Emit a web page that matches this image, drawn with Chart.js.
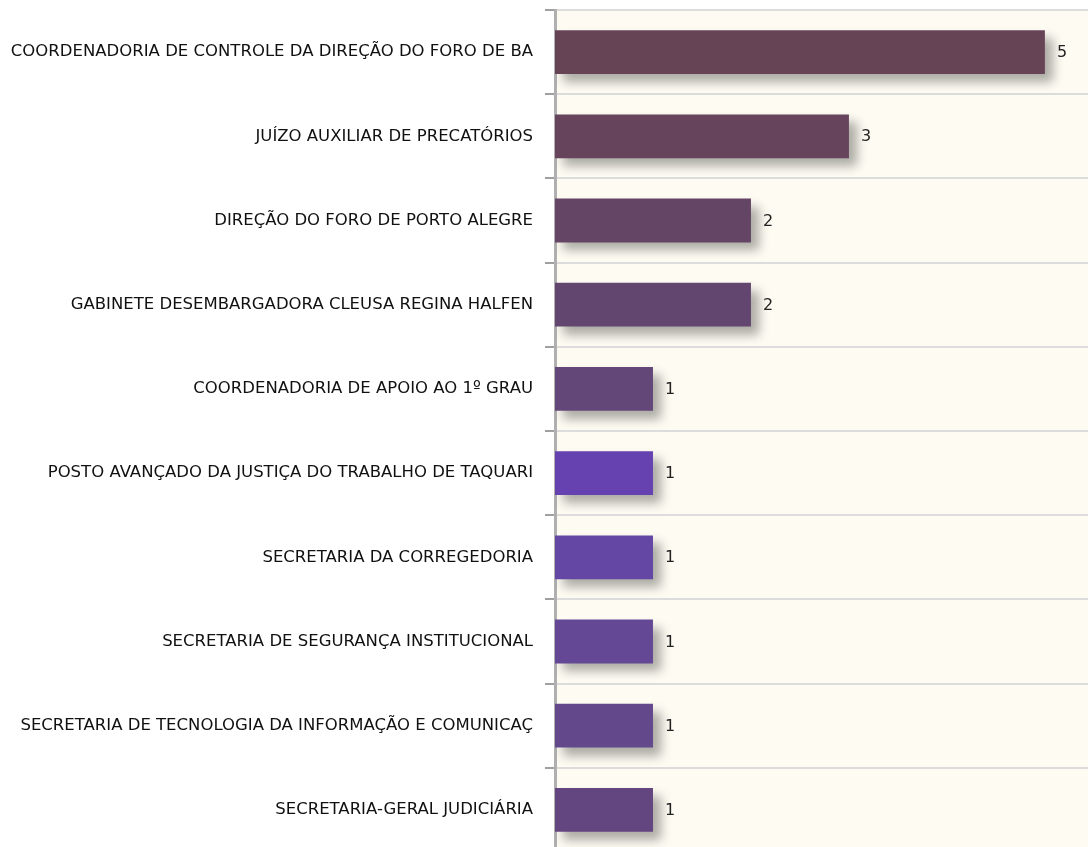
<!DOCTYPE html>
<html>
<head>
<meta charset="utf-8">
<script src="https://cdn.jsdelivr.net/npm/chart.js@4/dist/chart.umd.min.js"></script>
<style>
  html, body { margin: 0; padding: 0; background: #fff; overflow: hidden; }
  #wrap { width: 1088px; height: 852px; position: relative; }
</style>
</head>
<body>
<div id="wrap"><canvas id="chart"></canvas></div>
<script>
var labels = [
    "COORDENADORIA DE CONTROLE DA DIREÇÃO DO FORO DE BA",
    "JUÍZO AUXILIAR DE PRECATÓRIOS",
    "DIREÇÃO DO FORO DE PORTO ALEGRE",
    "GABINETE DESEMBARGADORA CLEUSA REGINA HALFEN",
    "COORDENADORIA DE APOIO AO 1º GRAU",
    "POSTO AVANÇADO DA JUSTIÇA DO TRABALHO DE TAQUARI",
    "SECRETARIA DA CORREGEDORIA",
    "SECRETARIA DE SEGURANÇA INSTITUCIONAL",
    "SECRETARIA DE TECNOLOGIA DA INFORMAÇÃO E COMUNICAÇ",
    "SECRETARIA-GERAL JUDICIÁRIA"
];
var values = [5, 3, 2, 2, 1, 1, 1, 1, 1, 1];
var barColors = [
    "#664456", "#65445c", "#644565", "#63466f", "#634779",
    "#6542b0", "#6446a4", "#644896", "#63488b", "#634580"
];

const FONT = "'DejaVu Sans', sans-serif";

// cream background behind the plot area
var plotBackground = {
    id: 'plotBackground',
    beforeDraw: function (chart) {
        var a = chart.chartArea;
        var ctx = chart.ctx;
        ctx.save();
        ctx.fillStyle = "#fdfbf2";
        ctx.fillRect(a.left, a.top, a.right - a.left, a.bottom - a.top);
        ctx.restore();
    }
};

// soft drop shadow under the bars
var barShadow = {
    id: 'barShadow',
    beforeDatasetDraw: function (chart) {
        var ctx = chart.ctx;
        ctx.save();
        ctx.shadowColor = "rgba(0,0,0,0.32)";
        ctx.shadowBlur = 10;
        ctx.shadowOffsetX = 8;
        ctx.shadowOffsetY = 8;
    },
    afterDatasetDraw: function (chart) {
        chart.ctx.restore();
    }
};

// value printed at the end of each bar
var valueLabels = {
    id: 'valueLabels',
    afterDatasetsDraw: function (chart) {
        var ctx = chart.ctx;
        var meta = chart.getDatasetMeta(0);
        ctx.save();
        ctx.font = "16px " + FONT;
        ctx.fillStyle = "#222";
        ctx.textAlign = "left";
        ctx.textBaseline = "middle";
        meta.data.forEach(function (bar, i) {
            ctx.fillText(String(values[i]), bar.x + 12, bar.y + 1);
        });
        ctx.restore();
    }
};

new Chart(document.getElementById('chart'), {
    type: 'bar',
    data: {
        labels: labels,
        datasets: [{
            data: values,
            backgroundColor: barColors,
            borderWidth: 0,
            barPercentage: 0.52,
            categoryPercentage: 1
        }]
    },
    options: {
        indexAxis: 'y',
        responsive: true,
        maintainAspectRatio: false,
        animation: false,
        layout: { padding: { top: 10, left: 0, right: 0, bottom: 0 } },
        plugins: {
            legend: { display: false },
            tooltip: { enabled: false }
        },
        scales: {
            x: {
                display: false,
                min: 0,
                max: 5.44
            },
            y: {
                afterFit: function (scale) {
                    scale.width = 555;
                    scale.paddingTop = 0;
                    scale.paddingBottom = 0;
                },
                grid: {
                    offset: true,
                    color: "#dcdcdc",
                    lineWidth: 2,
                    tickColor: "#a0a0a0",
                    tickLength: 10
                },
                border: { color: "#b0b0b0", width: 3 },
                ticks: {
                    padding: 12,
                    color: "#111",
                    font: { family: FONT, size: 16.5 }
                }
            }
        }
    },
    plugins: [plotBackground, barShadow, valueLabels]
});
</script>
</body>
</html>
